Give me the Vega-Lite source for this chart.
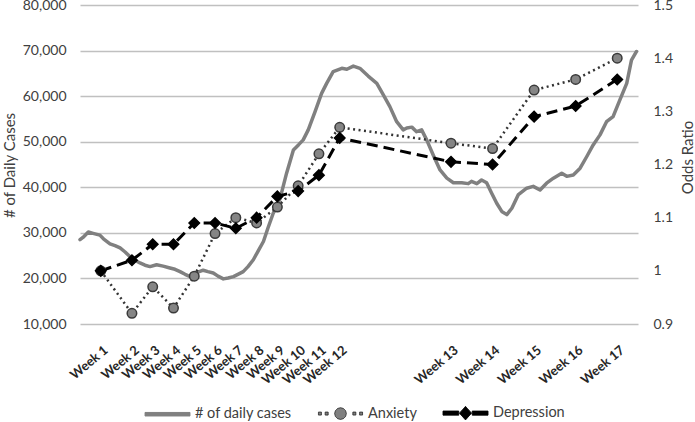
{
  "$schema": "https://vega.github.io/schema/vega-lite/v6.json",
  "width": 558,
  "height": 319,
  "autosize": {"type": "none"},
  "padding": {"left": 80, "top": 5, "right": 57, "bottom": 98},
  "background": "white",
  "config": {
    "view": {"stroke": null},
    "font": "Lato",
    "axis": {
      "labelFont": "Lato",
      "labelFontSize": 14,
      "labelColor": "#404040",
      "titleFont": "Lato",
      "titleFontSize": 15,
      "titleFontWeight": "normal",
      "titleColor": "#404040"
    }
  },
  "datasets": {
    "cases": [
      {"day": 0, "cases": 28500, "series": "# of daily cases"},
      {"day": 1, "cases": 29000, "series": "# of daily cases"},
      {"day": 2.8, "cases": 30200, "series": "# of daily cases"},
      {"day": 4.4, "cases": 29900, "series": "# of daily cases"},
      {"day": 6.7, "cases": 29500, "series": "# of daily cases"},
      {"day": 7.9, "cases": 28700, "series": "# of daily cases"},
      {"day": 10.1, "cases": 27600, "series": "# of daily cases"},
      {"day": 11.8, "cases": 27200, "series": "# of daily cases"},
      {"day": 13.5, "cases": 26700, "series": "# of daily cases"},
      {"day": 15.2, "cases": 25800, "series": "# of daily cases"},
      {"day": 16.8, "cases": 24800, "series": "# of daily cases"},
      {"day": 18.5, "cases": 24000, "series": "# of daily cases"},
      {"day": 20.2, "cases": 23400, "series": "# of daily cases"},
      {"day": 21.9, "cases": 22900, "series": "# of daily cases"},
      {"day": 23.6, "cases": 22600, "series": "# of daily cases"},
      {"day": 25.8, "cases": 23000, "series": "# of daily cases"},
      {"day": 28, "cases": 22700, "series": "# of daily cases"},
      {"day": 30.3, "cases": 22300, "series": "# of daily cases"},
      {"day": 32, "cases": 22000, "series": "# of daily cases"},
      {"day": 33.7, "cases": 21500, "series": "# of daily cases"},
      {"day": 35.4, "cases": 20900, "series": "# of daily cases"},
      {"day": 37.1, "cases": 20400, "series": "# of daily cases"},
      {"day": 39.1, "cases": 21200, "series": "# of daily cases"},
      {"day": 41.5, "cases": 21800, "series": "# of daily cases"},
      {"day": 43.1, "cases": 21500, "series": "# of daily cases"},
      {"day": 44.9, "cases": 21200, "series": "# of daily cases"},
      {"day": 46.5, "cases": 20500, "series": "# of daily cases"},
      {"day": 48.3, "cases": 19900, "series": "# of daily cases"},
      {"day": 49.9, "cases": 20100, "series": "# of daily cases"},
      {"day": 51.7, "cases": 20400, "series": "# of daily cases"},
      {"day": 53.2, "cases": 20900, "series": "# of daily cases"},
      {"day": 55, "cases": 21500, "series": "# of daily cases"},
      {"day": 56.6, "cases": 22600, "series": "# of daily cases"},
      {"day": 58.4, "cases": 24100, "series": "# of daily cases"},
      {"day": 60, "cases": 26000, "series": "# of daily cases"},
      {"day": 61.8, "cases": 28100, "series": "# of daily cases"},
      {"day": 63.3, "cases": 31000, "series": "# of daily cases"},
      {"day": 65.1, "cases": 34300, "series": "# of daily cases"},
      {"day": 67.4, "cases": 37500, "series": "# of daily cases"},
      {"day": 69.6, "cases": 43100, "series": "# of daily cases"},
      {"day": 71.9, "cases": 48200, "series": "# of daily cases"},
      {"day": 73.6, "cases": 49300, "series": "# of daily cases"},
      {"day": 75.2, "cases": 50400, "series": "# of daily cases"},
      {"day": 76.9, "cases": 52600, "series": "# of daily cases"},
      {"day": 79.2, "cases": 56600, "series": "# of daily cases"},
      {"day": 81.4, "cases": 60600, "series": "# of daily cases"},
      {"day": 83.1, "cases": 62800, "series": "# of daily cases"},
      {"day": 85.3, "cases": 65400, "series": "# of daily cases"},
      {"day": 88.2, "cases": 66100, "series": "# of daily cases"},
      {"day": 89.9, "cases": 65900, "series": "# of daily cases"},
      {"day": 92.1, "cases": 66600, "series": "# of daily cases"},
      {"day": 94.3, "cases": 66100, "series": "# of daily cases"},
      {"day": 97.1, "cases": 64400, "series": "# of daily cases"},
      {"day": 100, "cases": 62800, "series": "# of daily cases"},
      {"day": 102.2, "cases": 60300, "series": "# of daily cases"},
      {"day": 104.4, "cases": 57700, "series": "# of daily cases"},
      {"day": 106.7, "cases": 54400, "series": "# of daily cases"},
      {"day": 108.9, "cases": 52600, "series": "# of daily cases"},
      {"day": 110.1, "cases": 53000, "series": "# of daily cases"},
      {"day": 111.8, "cases": 53200, "series": "# of daily cases"},
      {"day": 113.4, "cases": 52200, "series": "# of daily cases"},
      {"day": 115.1, "cases": 52600, "series": "# of daily cases"},
      {"day": 116.8, "cases": 50400, "series": "# of daily cases"},
      {"day": 119, "cases": 47100, "series": "# of daily cases"},
      {"day": 121.3, "cases": 43800, "series": "# of daily cases"},
      {"day": 123.6, "cases": 42000, "series": "# of daily cases"},
      {"day": 125.8, "cases": 41000, "series": "# of daily cases"},
      {"day": 128.6, "cases": 41000, "series": "# of daily cases"},
      {"day": 130.8, "cases": 40800, "series": "# of daily cases"},
      {"day": 131.9, "cases": 41300, "series": "# of daily cases"},
      {"day": 133.7, "cases": 40800, "series": "# of daily cases"},
      {"day": 135.3, "cases": 41600, "series": "# of daily cases"},
      {"day": 137, "cases": 41000, "series": "# of daily cases"},
      {"day": 138.7, "cases": 38700, "series": "# of daily cases"},
      {"day": 140.4, "cases": 36500, "series": "# of daily cases"},
      {"day": 142.1, "cases": 34700, "series": "# of daily cases"},
      {"day": 143.8, "cases": 34000, "series": "# of daily cases"},
      {"day": 145.5, "cases": 35400, "series": "# of daily cases"},
      {"day": 147.7, "cases": 38400, "series": "# of daily cases"},
      {"day": 150.5, "cases": 39800, "series": "# of daily cases"},
      {"day": 152.7, "cases": 40200, "series": "# of daily cases"},
      {"day": 155, "cases": 39400, "series": "# of daily cases"},
      {"day": 157.2, "cases": 40900, "series": "# of daily cases"},
      {"day": 159.5, "cases": 42000, "series": "# of daily cases"},
      {"day": 162.3, "cases": 43100, "series": "# of daily cases"},
      {"day": 164, "cases": 42400, "series": "# of daily cases"},
      {"day": 166.2, "cases": 42700, "series": "# of daily cases"},
      {"day": 168.5, "cases": 44200, "series": "# of daily cases"},
      {"day": 170.7, "cases": 46700, "series": "# of daily cases"},
      {"day": 172.9, "cases": 49300, "series": "# of daily cases"},
      {"day": 175.2, "cases": 51500, "series": "# of daily cases"},
      {"day": 177.4, "cases": 54400, "series": "# of daily cases"},
      {"day": 179.6, "cases": 55500, "series": "# of daily cases"},
      {"day": 181.9, "cases": 59200, "series": "# of daily cases"},
      {"day": 184.2, "cases": 62800, "series": "# of daily cases"},
      {"day": 185.8, "cases": 67900, "series": "# of daily cases"},
      {"day": 187.5, "cases": 69800, "series": "# of daily cases"}
    ],
    "or": [
      {"week": "Week 1", "day": 7, "series": "Anxiety", "or": 1.0},
      {"week": "Week 2", "day": 17.5, "series": "Anxiety", "or": 0.92},
      {"week": "Week 3", "day": 24.5, "series": "Anxiety", "or": 0.97},
      {"week": "Week 4", "day": 31.5, "series": "Anxiety", "or": 0.93},
      {"week": "Week 5", "day": 38.5, "series": "Anxiety", "or": 0.99},
      {"week": "Week 6", "day": 45.5, "series": "Anxiety", "or": 1.07},
      {"week": "Week 7", "day": 52.5, "series": "Anxiety", "or": 1.10},
      {"week": "Week 8", "day": 59.5, "series": "Anxiety", "or": 1.09},
      {"week": "Week 9", "day": 66.5, "series": "Anxiety", "or": 1.12},
      {"week": "Week 10", "day": 73.5, "series": "Anxiety", "or": 1.16},
      {"week": "Week 11", "day": 80.5, "series": "Anxiety", "or": 1.22},
      {"week": "Week 12", "day": 87.5, "series": "Anxiety", "or": 1.27},
      {"week": "Week 13", "day": 125, "series": "Anxiety", "or": 1.24},
      {"week": "Week 14", "day": 139, "series": "Anxiety", "or": 1.23},
      {"week": "Week 15", "day": 153, "series": "Anxiety", "or": 1.34},
      {"week": "Week 16", "day": 167, "series": "Anxiety", "or": 1.36},
      {"week": "Week 17", "day": 181, "series": "Anxiety", "or": 1.40},
      {"week": "Week 1", "day": 7, "series": "Depression", "or": 1.0},
      {"week": "Week 2", "day": 17.5, "series": "Depression", "or": 1.02},
      {"week": "Week 3", "day": 24.5, "series": "Depression", "or": 1.05},
      {"week": "Week 4", "day": 31.5, "series": "Depression", "or": 1.05},
      {"week": "Week 5", "day": 38.5, "series": "Depression", "or": 1.09},
      {"week": "Week 6", "day": 45.5, "series": "Depression", "or": 1.09},
      {"week": "Week 7", "day": 52.5, "series": "Depression", "or": 1.08},
      {"week": "Week 8", "day": 59.5, "series": "Depression", "or": 1.10},
      {"week": "Week 9", "day": 66.5, "series": "Depression", "or": 1.14},
      {"week": "Week 10", "day": 73.5, "series": "Depression", "or": 1.15},
      {"week": "Week 11", "day": 80.5, "series": "Depression", "or": 1.18},
      {"week": "Week 12", "day": 87.5, "series": "Depression", "or": 1.25},
      {"week": "Week 13", "day": 125, "series": "Depression", "or": 1.205},
      {"week": "Week 14", "day": 139, "series": "Depression", "or": 1.20},
      {"week": "Week 15", "day": 153, "series": "Depression", "or": 1.29},
      {"week": "Week 16", "day": 167, "series": "Depression", "or": 1.31},
      {"week": "Week 17", "day": 181, "series": "Depression", "or": 1.36}
    ]
  },
  "encoding": {
    "x": {
      "field": "day",
      "type": "quantitative",
      "scale": {"domain": [0, 188], "nice": false, "zero": false},
      "axis": {
        "title": null,
        "domain": false,
        "ticks": false,
        "grid": false,
        "values": [7, 17.5, 24.5, 31.5, 38.5, 45.5, 52.5, 59.5, 66.5, 73.5, 80.5, 87.5, 125, 139, 153, 167, 181],
        "labelExpr": "['Week 1','Week 2','Week 3','Week 4','Week 5','Week 6','Week 7','Week 8','Week 9','Week 10','Week 11','Week 12','Week 13','Week 14','Week 15','Week 16','Week 17'][indexof([7,17.5,24.5,31.5,38.5,45.5,52.5,59.5,66.5,73.5,80.5,87.5,125,139,153,167,181], datum.value)]",
        "labelAngle": -40,
        "labelAlign": "right",
        "labelBaseline": "middle",
        "labelPadding": 24,
        "labelOffset": 5,
        "labelFontSize": 13,
        "labelFontWeight": "bold",
        "labelColor": "#262626",
        "labelOverlap": false,
        "labelFlush": false,
        "labelBound": false
      }
    }
  },
  "layer": [
    {
      "data": {"name": "cases"},
      "mark": {"type": "line", "strokeWidth": 3.5, "strokeJoin": "round", "strokeCap": "round"},
      "encoding": {
        "y": {
          "field": "cases",
          "type": "quantitative",
          "scale": {"domain": [10000, 80000], "nice": false, "zero": false},
          "axis": {
            "orient": "left",
            "title": "# of Daily Cases",
            "values": [10000, 20000, 30000, 40000, 50000, 60000, 70000, 80000],
            "labelExpr": "format(datum.value, ',')",
            "grid": true,
            "gridColor": "#c0c0c0",
            "gridWidth": 1.5,
            "domain": false,
            "ticks": false,
            "labelPadding": 14,
            "titleAngle": 270,
            "titleAlign": "center",
            "titleBaseline": "middle",
            "titleX": -71,
            "titleY": 160
          }
        },
        "color": {
          "field": "series",
          "type": "nominal",
          "scale": {"domain": ["# of daily cases", "Anxiety", "Depression"], "range": ["#808080", "#333333", "#000000"]},
          "legend": {
            "orient": "none",
            "legendX": 65,
            "legendY": 398,
            "direction": "horizontal",
            "title": null,
            "padding": 0,
            "symbolSize": 2025,
            "symbolStrokeWidth": 1,
            "labelOffset": 5,
            "columnPadding": 24,
            "labelFont": "Lato",
            "labelFontSize": 14.5,
            "labelColor": "#404040",
            "encode": {
              "symbols": {
                "update": {
                  "x": {"value": 22.5},
                  "y": {"value": 10},
                  "size": {"value": 2025},
                  "shape": {"signal": "datum.value === 'Depression' ? 'M-1,-0.09L-0.3,-0.09L-0.3,0.09L-1,0.09Z M-0.27,0L0,-0.3L0.27,0L0,0.3Z M0.3,-0.09L1,-0.09L1,0.09L0.3,0.09Z' : datum.value === 'Anxiety' ? 'M-0.98,-0.065L-0.85,-0.065L-0.85,0.065L-0.98,0.065Z M-0.68,-0.065L-0.55,-0.065L-0.55,0.065L-0.68,0.065Z M0.26,0L0.225,0.13L0.13,0.225L0,0.26L-0.13,0.225L-0.225,0.13L-0.26,0L-0.225,-0.13L-0.13,-0.225L0,-0.26L0.13,-0.225L0.225,-0.13Z M0.55,-0.065L0.68,-0.065L0.68,0.065L0.55,0.065Z M0.85,-0.065L0.98,-0.065L0.98,0.065L0.85,0.065Z' : 'M-1,-0.08L1,-0.08L1,0.08L-1,0.08Z'"},
                  "fill": {"signal": "datum.value === 'Depression' ? '#000000' : '#808080'"},
                  "stroke": {"signal": "datum.value === 'Depression' ? '#000000' : datum.value === 'Anxiety' ? '#333333' : '#808080'"},
                  "strokeWidth": {"value": 1},
                  "strokeDash": {"value": [1, 0]},
                  "opacity": {"value": 1}
                }
              },
              "labels": {
                "update": {
                  "x": {"value": 50},
                  "y": {"value": 10},
                  "baseline": {"value": "middle"},
                  "align": {"value": "left"}
                }
              }
            }
          }
        }
      }
    },
    {
      "data": {"name": "or"},
      "encoding": {
        "y": {
          "field": "or",
          "type": "quantitative",
          "scale": {"domain": [0.9, 1.5], "nice": false, "zero": false},
          "axis": {
            "orient": "right",
            "title": "Odds Ratio",
            "values": [0.9, 1.0, 1.1, 1.2, 1.3, 1.4, 1.5],
            "labelExpr": "format(datum.value, '~g')",
            "grid": false,
            "domain": false,
            "ticks": false,
            "labelPadding": 15,
            "titleAngle": 270,
            "titleAlign": "center",
            "titleBaseline": "middle",
            "titleX": 49,
            "titleY": 152
          }
        }
      },
      "layer": [
        {
          "mark": {"type": "line", "strokeCap": "butt"},
          "encoding": {
            "color": {"field": "series", "type": "nominal"},
            "strokeDash": {
              "field": "series",
              "type": "nominal",
              "scale": {"domain": ["Anxiety", "Depression"], "range": [[2, 3.5], [11, 6]]},
              "legend": null
            },
            "strokeWidth": {
              "field": "series",
              "type": "nominal",
              "scale": {"domain": ["Anxiety", "Depression"], "range": [2.5, 3]},
              "legend": null
            }
          }
        },
        {
          "mark": {"type": "point", "filled": true, "opacity": 1},
          "encoding": {
            "shape": {
              "field": "series",
              "type": "nominal",
              "scale": {"domain": ["Anxiety", "Depression"], "range": ["circle", "diamond"]},
              "legend": null
            },
            "fill": {
              "field": "series",
              "type": "nominal",
              "scale": {"domain": ["Anxiety", "Depression"], "range": ["#858585", "#000000"]},
              "legend": null
            },
            "stroke": {
              "field": "series",
              "type": "nominal",
              "scale": {"domain": ["Anxiety", "Depression"], "range": ["#3a3a3a", "#000000"]},
              "legend": null
            },
            "size": {
              "field": "series",
              "type": "nominal",
              "scale": {"domain": ["Anxiety", "Depression"], "range": [90, 110]},
              "legend": null
            },
            "strokeWidth": {"value": 1.5}
          }
        }
      ]
    }
  ],
  "resolve": {"scale": {"y": "independent"}}
}
